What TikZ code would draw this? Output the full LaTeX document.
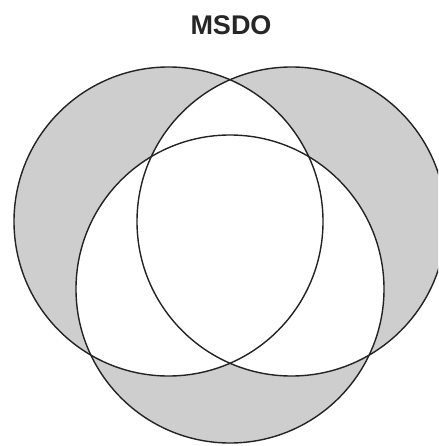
\documentclass[tikz,border=0pt]{standalone}
\usepackage{fontspec}
\setmainfont{Liberation Sans}
\definecolor{shadegray}{RGB}{206,206,206}
\definecolor{linegray}{RGB}{35,35,35}
\tikzset{
  ring/.style={draw=linegray, line width=1.4pt},
  titletext/.style={font=\fontsize{27}{30}\selectfont\bfseries, text=black!85, inner sep=0pt}
}
\begin{document}
\begin{tikzpicture}[x=1pt,y=-1pt]
\useasboundingbox (0,0) rectangle (438,446);
\clip (0,0) rectangle (438,446);
\fill[white] (0,0) rectangle (438,446);
\coordinate (L) at (168.5,221.5);
\coordinate (R) at (291.5,221.5);
\coordinate (B) at (230,289);
\def\rad{154.5}
\fill[shadegray, even odd rule] (L) circle (\rad) (R) circle (\rad) (B) circle (154);
\begin{scope}
  \clip (L) circle (\rad);
  \clip (R) circle (\rad);
  \fill[white] (B) circle (154);
\end{scope}
\draw[ring] (L) circle (\rad);
\draw[ring] (R) circle (\rad);
\draw[ring] (B) circle (154);
\node[titletext] (title) at (231,25) {MSDO};
\end{tikzpicture}
\end{document}
